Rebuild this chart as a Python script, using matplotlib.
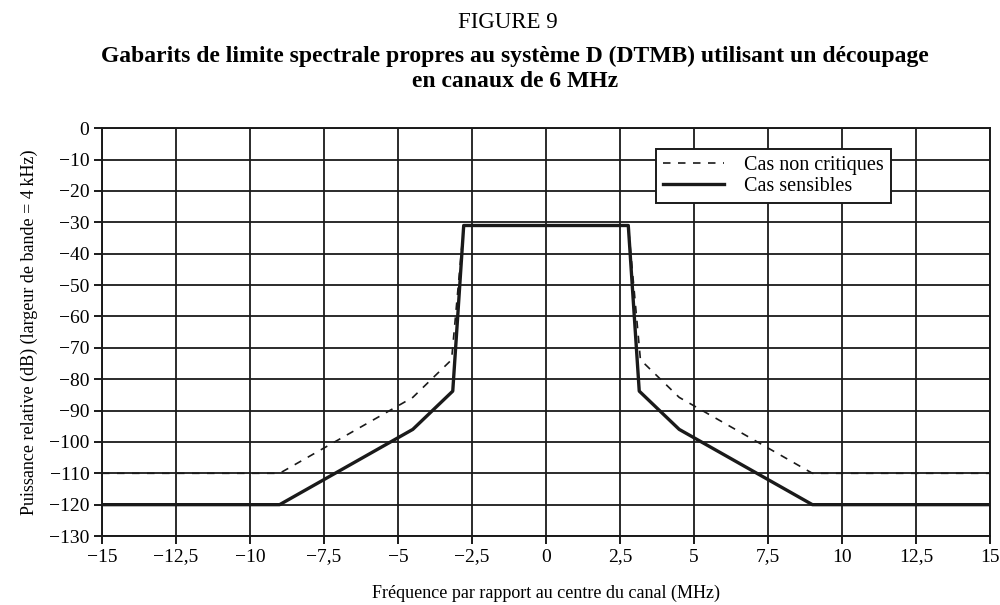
import matplotlib
matplotlib.use("Agg")
import matplotlib.pyplot as plt

plt.rcParams['font.family'] = ['Liberation Serif', 'DejaVu Serif']
plt.rcParams['axes.unicode_minus'] = True

# frequency (MHz) / level (dB) break points of the two masks
freq_non_critique = [-15, -9, -4.5, -3.19, -2.78, 2.78, 3.19, 4.5, 9, 15]
puiss_non_critique = [-110, -110, -85.8, -73.8, -31, -31, -73.8, -85.8, -110, -110]
freq_sensible = [-15, -9, -4.5, -3.15, -2.78, 2.78, 3.15, 4.5, 9, 15]
puiss_sensible = [-120, -120, -96, -83.8, -31, -31, -83.8, -96, -120, -120]

xticks = [-15, -12.5, -10, -7.5, -5, -2.5, 0, 2.5, 5, 7.5, 10, 12.5, 15]
yticks = list(range(0, -140, -10))

def fmt(v):
    s = ('%g' % v).replace('.', ',')  # decimal comma
    return s.replace('-', '\u2212')

fig = plt.figure(figsize=(10, 6.05), dpi=100)
ax = fig.add_axes([0.102, 0.114, 0.888, 0.674])

ax.plot(freq_non_critique, puiss_non_critique, color='#1a1a1a', lw=1.2,
        dashes=(4.5, 4.5), label='Cas non critiques', zorder=3)
ax.plot(freq_sensible, puiss_sensible, color='#1a1a1a', lw=2.4,
        label='Cas sensibles', zorder=4)

ax.set_xlim(-15, 15)
ax.set_ylim(-130, 0)
ax.set_xticks(xticks)
ax.set_xticklabels([fmt(v) for v in xticks])
ax.set_yticks(yticks)
ax.set_yticklabels([fmt(v) for v in yticks])
ax.tick_params(direction='out', length=6, width=1.4, color='#1a1a1a',
               labelsize=14, pad=3)
ax.grid(True, color='#1a1a1a', lw=1.3)
for sp in ax.spines.values():
    sp.set_color('#1a1a1a')
    sp.set_linewidth(1.4)

ax.set_xlabel('Fréquence par rapport au centre du canal (MHz)', fontsize=13, labelpad=14)
ax.set_ylabel('Puissance relative (dB) (largeur de bande = 4\u2009kHz)', fontsize=13, labelpad=8)

leg = ax.legend(loc='upper left', bbox_to_anchor=(0.624, 0.949), fontsize=14.5,
                frameon=True, fancybox=False, framealpha=1, edgecolor='#1a1a1a',
                borderaxespad=0, handlelength=3.0, borderpad=0.35, labelspacing=0.1,
                handletextpad=1.0)
leg.get_frame().set_linewidth(1.4)

fig.text(0.508, 0.962, 'FIGURE 9', ha='center', va='center', fontsize=16.5)
fig.text(0.515, 0.886, 'Gabarits de limite spectrale propres au système D (DTMB) utilisant un découpage\nen canaux de 6 MHz',
         ha='center', va='center', fontsize=17, fontweight='bold', linespacing=1.3)

fig.savefig('out.png', dpi=100)
